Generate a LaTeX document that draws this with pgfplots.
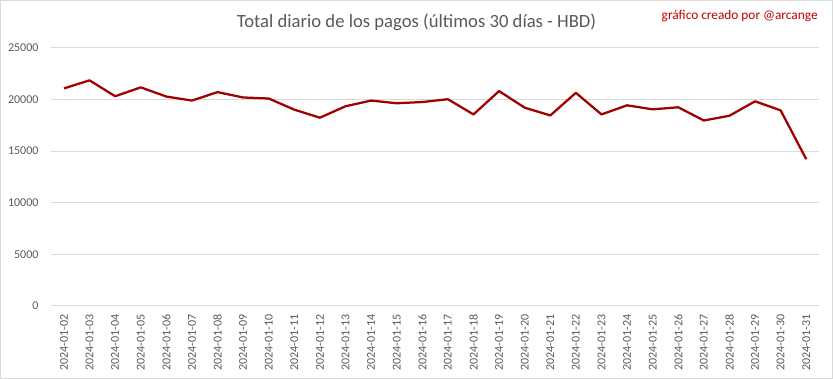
\documentclass[border=0pt]{standalone}
\usepackage{pgfplots}
\pgfplotsset{compat=1.18}
\usepackage{fontspec}
\setmainfont{Carlito}
\definecolor{linered}{HTML}{A00000}
\definecolor{txtgray}{HTML}{595959}
\definecolor{gridgray}{HTML}{D9D9D9}
\definecolor{signred}{HTML}{C00000}
\begin{document}
\begin{tikzpicture}
\begin{axis}[
  name=ax,
  scale only axis,
  width=576pt, height=193.5pt,
  xmin=-0.5, xmax=29.5,
  ymin=0, ymax=25000,
  ytick={0,5000,10000,15000,20000,25000},
  xtick={0,...,29},
  xticklabels={2024-01-02,2024-01-03,2024-01-04,2024-01-05,2024-01-06,2024-01-07,2024-01-08,2024-01-09,2024-01-10,2024-01-11,2024-01-12,2024-01-13,2024-01-14,2024-01-15,2024-01-16,2024-01-17,2024-01-18,2024-01-19,2024-01-20,2024-01-21,2024-01-22,2024-01-23,2024-01-24,2024-01-25,2024-01-26,2024-01-27,2024-01-28,2024-01-29,2024-01-30,2024-01-31},
  x tick label style={rotate=90, anchor=east, font=\fontsize{9}{10}\selectfont, text=txtgray},
  y tick label style={font=\fontsize{9}{10}\selectfont, text=txtgray},
  scaled y ticks=false,
  yticklabel style={/pgf/number format/.cd, fixed, 1000 sep={}},
  /pgf/number format/assume math mode=true,
  ymajorgrids,
  grid style={gridgray, line width=0.75pt},
  axis line style={draw=none},
  major tick length=0pt,
  xticklabel shift=3pt,
  yticklabel shift=6pt,
  clip=false,
]
\addplot[linered, line width=1.7pt, line join=round] coordinates {
(0,21080) (1,21860) (2,20320) (3,21180) (4,20290) (5,19900) (6,20720) (7,20200) (8,20100) (9,19020)
(10,18240) (11,19350) (12,19900) (13,19640) (14,19760) (15,20030) (16,18560) (17,20820) (18,19210) (19,18460)
(20,20650) (21,18560) (22,19440) (23,19050) (24,19250) (25,17970) (26,18430) (27,19830) (28,18950) (29,14220)
};
\end{axis}
\draw[gridgray, line width=0.75pt] ([xshift=-38pt,yshift=-54.4pt]ax.south west) rectangle ([xshift=10.1pt,yshift=35.6pt]ax.north east);
\node[font=\fontsize{14}{16}\selectfont, text=txtgray] at ([xshift=274.1pt,yshift=19.5pt]ax.north west) {Total diario de los pagos (últimos 30 días - HBD)};
\node[font=\fontsize{10}{12}\selectfont, text=signred, anchor=east] at ([xshift=2.5pt,yshift=24pt]ax.north east) {gráfico creado por @arcange};
\end{tikzpicture}
\end{document}
